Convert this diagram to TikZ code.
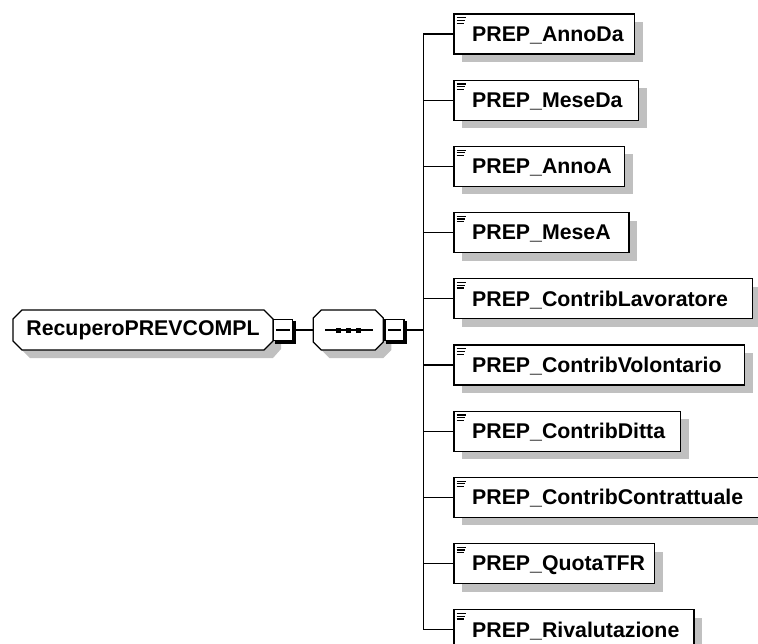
\documentclass[tikz,border=0pt]{standalone}
\usepackage{fontspec}
\setmainfont{Liberation Sans}
\usetikzlibrary{shadows,calc}
\definecolor{shadowgray}{HTML}{C0C0C0}
\begin{document}
\begin{tikzpicture}[x=1pt,y=-1pt,
  shad/.style={drop shadow={shadow xshift=8pt,shadow yshift=-8pt,fill=shadowgray,opacity=1}},
  txt/.style={font=\fontsize{21.3}{24}\selectfont\bfseries},
  elbox/.style={draw=black,line width=1.3pt,fill=white,shad,minimum height=40pt,inner sep=0pt,anchor=north west},
  lbl/.style={txt,inner sep=0pt,anchor=base west},
  octbox/.style={rectangle,minimum height=40pt,inner sep=0pt},
  octline/.style={draw=black,line width=1.3pt,fill=white},
  minusbox/.style={draw=black,line width=1.2pt,fill=white,minimum width=19pt,minimum height=21pt,inner sep=0pt},
  conn/.style={line width=1.3pt,black},
  thick3d/.style={line width=2.6pt,black,line join=miter},
  icon/.style={line width=1.2pt,black}
]
\path[use as bounding box,clip] (0,0) rectangle (758,643);

% shadows of the octagonal frames
\fill[shadowgray] (30,318) -- (273,318) -- (281,327) -- (281,349) -- (273,358) -- (30,358) -- (21,349) -- (21,327) -- cycle;
\fill[shadowgray] (329.3,318) -- (383.3,318) -- (391.3,326) -- (391.3,350) -- (383.3,358) -- (329.3,358) -- (321.3,350) -- (321.3,326) -- cycle;
% octagonal frames
\draw[octline] (22,310) -- (264,310) -- (273,319) -- (273,341) -- (264,350) -- (22,350) -- (13,341) -- (13,319) -- cycle;
\draw[octline] (321.3,310) -- (375.3,310) -- (383.3,318) -- (383.3,342) -- (375.3,350) -- (321.3,350) -- (313.3,342) -- (313.3,318) -- cycle;
\node[octbox,minimum width=260pt,txt] (root) at (143,330) {RecuperoPREVCOMPL};
\node[octbox,minimum width=70pt] (seq) at (348.3,330) {};

% root minus box
\node[minusbox] (rm) at (283,330) {};
\draw[thick3d] ($(rm.north east)+(1.2,2)$) -- ($(rm.south east)+(1.2,1.2)$) -- ($(rm.south west)+(2,1.2)$);
\draw[icon] ($(rm.west)+(3.5,0)$) -- ($(rm.east)+(-3.5,0)$);

% sequence compositor symbol
\draw[icon] ($(seq.center)+(-23,0)$) -- ($(seq.center)+(25,0)$);
\foreach \dx in {-10,0,10}
  \fill ($(seq.center)+(\dx-2.5,-2.5)$) rectangle ++(5,5);
\node[minusbox] (sm) at (394.5,330) {};
\draw[thick3d] ($(sm.north east)+(1.2,2)$) -- ($(sm.south east)+(1.2,1.2)$) -- ($(sm.south west)+(2,1.2)$);
\draw[icon] ($(sm.west)+(3.5,0)$) -- ($(sm.east)+(-3.5,0)$);

\draw[conn] (rm.east) -- (seq.west);
\coordinate (tr) at (423.3,330);
\draw[conn] (sm.east) -- (tr);

% child elements
\foreach \i/\w/\t in {
  0/180.7/PREP\_AnnoDa,
  1/184.7/PREP\_MeseDa,
  2/170.7/PREP\_AnnoA,
  3/175/PREP\_MeseA,
  4/298.4/PREP\_ContribLavoratore,
  5/290.7/PREP\_ContribVolontario,
  6/226.7/PREP\_ContribDitta,
  7/312/PREP\_ContribContrattuale,
  8/200.7/PREP\_QuotaTFR,
  9/240/PREP\_Rivalutazione}{
  \node[elbox,minimum width=\w pt] (e\i) at (453.3,13.3+66.2*\i) {};
  \node[lbl] (t\i) at ($(e\i.north west)+(18.7,28)$) {\t};
  \draw[icon] ($(e\i.north west)+(3.4,4.4)$) -- ++(9.5,0);
  \draw[icon] ($(e\i.north west)+(3.4,7.1)$) -- ++(8.5,0);
  \draw[icon] ($(e\i.north west)+(3.4,9.8)$) -- ++(7.5,0);
  \draw[conn] (tr |- e\i.west) -- (e\i.west);
}
\draw[conn] (tr |- e0.west) -- (tr |- e9.west);
\end{tikzpicture}
\end{document}
